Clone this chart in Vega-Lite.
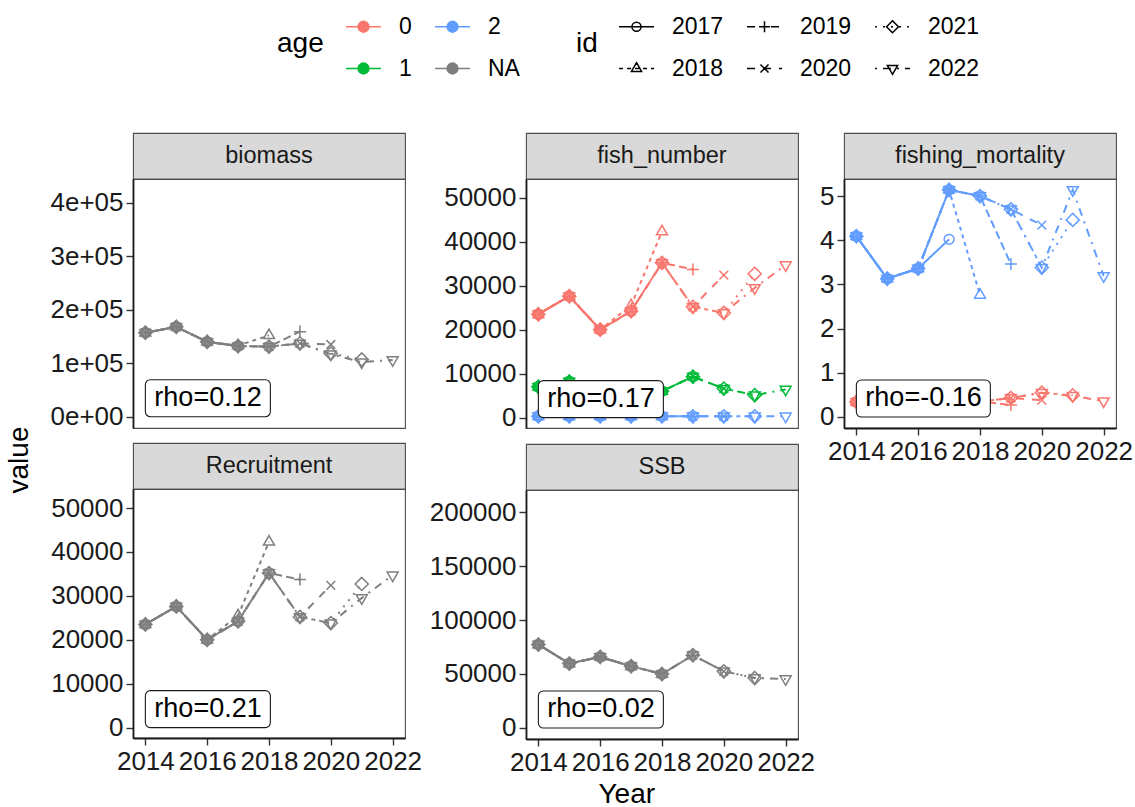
{
  "$schema": "https://vega.github.io/schema/vega-lite/v6.json",
  "background": "white",
  "padding": {"left": 0, "top": 8, "right": 0, "bottom": 0},
  "autosize": {"type": "pad"},
  "config": {
    "font": "Liberation Sans",
    "view": {"stroke": "#4d4d4d", "strokeWidth": 1.1},
    "axis": {"grid": false, "labelFontSize": 26, "labelColor": "#1a1a1a", "labelPadding": 3, "labelOverlap": false, "labelFlush": false, "domainColor": "#1a1a1a", "domainWidth": 1.8, "tickColor": "#333333", "tickWidth": 1.4, "tickSize": 7},
    "legend": {"titleFontSize": 28, "titleFontWeight": "normal", "titleColor": "#000000", "labelFontSize": 23, "labelColor": "#000000", "titleOrient": "left", "titleAnchor": "middle", "titleBaseline": "middle", "titlePadding": 21, "labelOffset": 17, "symbolSize": 1225, "symbolOpacity": 1, "rowPadding": 11, "columnPadding": 20, "orient": "none"},
    "point": {"size": 120, "strokeWidth": 1.5}
  },
  "datasets": {
    "rho": [
      {"panel": "biomass", "label": "rho=0.12", "Year": 2014, "value": 0},
      {"panel": "fish_number", "label": "rho=0.17", "Year": 2014, "value": 0},
      {"panel": "fishing_mortality", "label": "rho=-0.16", "Year": 2014, "value": 0},
      {"panel": "Recruitment", "label": "rho=0.21", "Year": 2014, "value": 0},
      {"panel": "SSB", "label": "rho=0.02", "Year": 2014, "value": 0}
    ],
    "retro": [
      {"panel":"biomass","age":"NA","id":"2017","Year":2014,"value":157000},
      {"panel":"biomass","age":"NA","id":"2017","Year":2015,"value":168000},
      {"panel":"biomass","age":"NA","id":"2017","Year":2016,"value":140000},
      {"panel":"biomass","age":"NA","id":"2017","Year":2017,"value":132000},
      {"panel":"biomass","age":"NA","id":"2018","Year":2014,"value":157000},
      {"panel":"biomass","age":"NA","id":"2018","Year":2015,"value":168000},
      {"panel":"biomass","age":"NA","id":"2018","Year":2016,"value":140000},
      {"panel":"biomass","age":"NA","id":"2018","Year":2017,"value":133000},
      {"panel":"biomass","age":"NA","id":"2018","Year":2018,"value":152000},
      {"panel":"biomass","age":"NA","id":"2019","Year":2014,"value":157000},
      {"panel":"biomass","age":"NA","id":"2019","Year":2015,"value":168000},
      {"panel":"biomass","age":"NA","id":"2019","Year":2016,"value":140000},
      {"panel":"biomass","age":"NA","id":"2019","Year":2017,"value":132000},
      {"panel":"biomass","age":"NA","id":"2019","Year":2018,"value":131000},
      {"panel":"biomass","age":"NA","id":"2019","Year":2019,"value":159000},
      {"panel":"biomass","age":"NA","id":"2020","Year":2014,"value":157000},
      {"panel":"biomass","age":"NA","id":"2020","Year":2015,"value":168000},
      {"panel":"biomass","age":"NA","id":"2020","Year":2016,"value":140000},
      {"panel":"biomass","age":"NA","id":"2020","Year":2017,"value":132000},
      {"panel":"biomass","age":"NA","id":"2020","Year":2018,"value":131000},
      {"panel":"biomass","age":"NA","id":"2020","Year":2019,"value":137000},
      {"panel":"biomass","age":"NA","id":"2020","Year":2020,"value":135000},
      {"panel":"biomass","age":"NA","id":"2021","Year":2014,"value":157000},
      {"panel":"biomass","age":"NA","id":"2021","Year":2015,"value":168000},
      {"panel":"biomass","age":"NA","id":"2021","Year":2016,"value":140000},
      {"panel":"biomass","age":"NA","id":"2021","Year":2017,"value":132000},
      {"panel":"biomass","age":"NA","id":"2021","Year":2018,"value":131000},
      {"panel":"biomass","age":"NA","id":"2021","Year":2019,"value":137000},
      {"panel":"biomass","age":"NA","id":"2021","Year":2020,"value":118000},
      {"panel":"biomass","age":"NA","id":"2021","Year":2021,"value":107000},
      {"panel":"biomass","age":"NA","id":"2022","Year":2014,"value":157000},
      {"panel":"biomass","age":"NA","id":"2022","Year":2015,"value":168000},
      {"panel":"biomass","age":"NA","id":"2022","Year":2016,"value":140000},
      {"panel":"biomass","age":"NA","id":"2022","Year":2017,"value":132000},
      {"panel":"biomass","age":"NA","id":"2022","Year":2018,"value":131000},
      {"panel":"biomass","age":"NA","id":"2022","Year":2019,"value":137000},
      {"panel":"biomass","age":"NA","id":"2022","Year":2020,"value":117000},
      {"panel":"biomass","age":"NA","id":"2022","Year":2021,"value":102000},
      {"panel":"biomass","age":"NA","id":"2022","Year":2022,"value":106000},

      {"panel":"fish_number","age":"0","id":"2017","Year":2014,"value":23500},
      {"panel":"fish_number","age":"0","id":"2017","Year":2015,"value":27600},
      {"panel":"fish_number","age":"0","id":"2017","Year":2016,"value":20000},
      {"panel":"fish_number","age":"0","id":"2017","Year":2017,"value":24200},
      {"panel":"fish_number","age":"0","id":"2018","Year":2014,"value":23500},
      {"panel":"fish_number","age":"0","id":"2018","Year":2015,"value":27600},
      {"panel":"fish_number","age":"0","id":"2018","Year":2016,"value":20000},
      {"panel":"fish_number","age":"0","id":"2018","Year":2017,"value":25500},
      {"panel":"fish_number","age":"0","id":"2018","Year":2018,"value":42300},
      {"panel":"fish_number","age":"0","id":"2019","Year":2014,"value":23500},
      {"panel":"fish_number","age":"0","id":"2019","Year":2015,"value":27600},
      {"panel":"fish_number","age":"0","id":"2019","Year":2016,"value":20000},
      {"panel":"fish_number","age":"0","id":"2019","Year":2017,"value":24200},
      {"panel":"fish_number","age":"0","id":"2019","Year":2018,"value":35200},
      {"panel":"fish_number","age":"0","id":"2019","Year":2019,"value":33700},
      {"panel":"fish_number","age":"0","id":"2020","Year":2014,"value":23500},
      {"panel":"fish_number","age":"0","id":"2020","Year":2015,"value":27600},
      {"panel":"fish_number","age":"0","id":"2020","Year":2016,"value":20000},
      {"panel":"fish_number","age":"0","id":"2020","Year":2017,"value":24200},
      {"panel":"fish_number","age":"0","id":"2020","Year":2018,"value":35200},
      {"panel":"fish_number","age":"0","id":"2020","Year":2019,"value":25200},
      {"panel":"fish_number","age":"0","id":"2020","Year":2020,"value":32400},
      {"panel":"fish_number","age":"0","id":"2021","Year":2014,"value":23500},
      {"panel":"fish_number","age":"0","id":"2021","Year":2015,"value":27600},
      {"panel":"fish_number","age":"0","id":"2021","Year":2016,"value":20000},
      {"panel":"fish_number","age":"0","id":"2021","Year":2017,"value":24200},
      {"panel":"fish_number","age":"0","id":"2021","Year":2018,"value":35200},
      {"panel":"fish_number","age":"0","id":"2021","Year":2019,"value":25200},
      {"panel":"fish_number","age":"0","id":"2021","Year":2020,"value":23800},
      {"panel":"fish_number","age":"0","id":"2021","Year":2021,"value":32700},
      {"panel":"fish_number","age":"0","id":"2022","Year":2014,"value":23500},
      {"panel":"fish_number","age":"0","id":"2022","Year":2015,"value":27600},
      {"panel":"fish_number","age":"0","id":"2022","Year":2016,"value":20000},
      {"panel":"fish_number","age":"0","id":"2022","Year":2017,"value":24200},
      {"panel":"fish_number","age":"0","id":"2022","Year":2018,"value":35200},
      {"panel":"fish_number","age":"0","id":"2022","Year":2019,"value":25200},
      {"panel":"fish_number","age":"0","id":"2022","Year":2020,"value":23800},
      {"panel":"fish_number","age":"0","id":"2022","Year":2021,"value":29500},
      {"panel":"fish_number","age":"0","id":"2022","Year":2022,"value":34700},

      {"panel":"fish_number","age":"1","id":"2017","Year":2014,"value":7000},
      {"panel":"fish_number","age":"1","id":"2017","Year":2015,"value":8200},
      {"panel":"fish_number","age":"1","id":"2017","Year":2016,"value":6800},
      {"panel":"fish_number","age":"1","id":"2017","Year":2017,"value":5600},
      {"panel":"fish_number","age":"1","id":"2018","Year":2014,"value":7000},
      {"panel":"fish_number","age":"1","id":"2018","Year":2015,"value":8200},
      {"panel":"fish_number","age":"1","id":"2018","Year":2016,"value":6800},
      {"panel":"fish_number","age":"1","id":"2018","Year":2017,"value":5600},
      {"panel":"fish_number","age":"1","id":"2018","Year":2018,"value":6000},
      {"panel":"fish_number","age":"1","id":"2019","Year":2014,"value":7000},
      {"panel":"fish_number","age":"1","id":"2019","Year":2015,"value":8200},
      {"panel":"fish_number","age":"1","id":"2019","Year":2016,"value":6800},
      {"panel":"fish_number","age":"1","id":"2019","Year":2017,"value":5600},
      {"panel":"fish_number","age":"1","id":"2019","Year":2018,"value":6000},
      {"panel":"fish_number","age":"1","id":"2019","Year":2019,"value":9300},
      {"panel":"fish_number","age":"1","id":"2020","Year":2014,"value":7000},
      {"panel":"fish_number","age":"1","id":"2020","Year":2015,"value":8200},
      {"panel":"fish_number","age":"1","id":"2020","Year":2016,"value":6800},
      {"panel":"fish_number","age":"1","id":"2020","Year":2017,"value":5600},
      {"panel":"fish_number","age":"1","id":"2020","Year":2018,"value":6000},
      {"panel":"fish_number","age":"1","id":"2020","Year":2019,"value":9300},
      {"panel":"fish_number","age":"1","id":"2020","Year":2020,"value":6600},
      {"panel":"fish_number","age":"1","id":"2021","Year":2014,"value":7000},
      {"panel":"fish_number","age":"1","id":"2021","Year":2015,"value":8200},
      {"panel":"fish_number","age":"1","id":"2021","Year":2016,"value":6800},
      {"panel":"fish_number","age":"1","id":"2021","Year":2017,"value":5600},
      {"panel":"fish_number","age":"1","id":"2021","Year":2018,"value":6000},
      {"panel":"fish_number","age":"1","id":"2021","Year":2019,"value":9300},
      {"panel":"fish_number","age":"1","id":"2021","Year":2020,"value":6600},
      {"panel":"fish_number","age":"1","id":"2021","Year":2021,"value":5100},
      {"panel":"fish_number","age":"1","id":"2022","Year":2014,"value":7000},
      {"panel":"fish_number","age":"1","id":"2022","Year":2015,"value":8200},
      {"panel":"fish_number","age":"1","id":"2022","Year":2016,"value":6800},
      {"panel":"fish_number","age":"1","id":"2022","Year":2017,"value":5600},
      {"panel":"fish_number","age":"1","id":"2022","Year":2018,"value":6000},
      {"panel":"fish_number","age":"1","id":"2022","Year":2019,"value":9300},
      {"panel":"fish_number","age":"1","id":"2022","Year":2020,"value":6600},
      {"panel":"fish_number","age":"1","id":"2022","Year":2021,"value":5100},
      {"panel":"fish_number","age":"1","id":"2022","Year":2022,"value":6400},

      {"panel":"fish_number","age":"2","id":"2017","Year":2014,"value":300},
      {"panel":"fish_number","age":"2","id":"2017","Year":2015,"value":300},
      {"panel":"fish_number","age":"2","id":"2017","Year":2016,"value":300},
      {"panel":"fish_number","age":"2","id":"2017","Year":2017,"value":300},
      {"panel":"fish_number","age":"2","id":"2018","Year":2014,"value":300},
      {"panel":"fish_number","age":"2","id":"2018","Year":2015,"value":300},
      {"panel":"fish_number","age":"2","id":"2018","Year":2016,"value":300},
      {"panel":"fish_number","age":"2","id":"2018","Year":2017,"value":300},
      {"panel":"fish_number","age":"2","id":"2018","Year":2018,"value":300},
      {"panel":"fish_number","age":"2","id":"2019","Year":2014,"value":300},
      {"panel":"fish_number","age":"2","id":"2019","Year":2015,"value":300},
      {"panel":"fish_number","age":"2","id":"2019","Year":2016,"value":300},
      {"panel":"fish_number","age":"2","id":"2019","Year":2017,"value":300},
      {"panel":"fish_number","age":"2","id":"2019","Year":2018,"value":300},
      {"panel":"fish_number","age":"2","id":"2019","Year":2019,"value":300},
      {"panel":"fish_number","age":"2","id":"2020","Year":2014,"value":300},
      {"panel":"fish_number","age":"2","id":"2020","Year":2015,"value":300},
      {"panel":"fish_number","age":"2","id":"2020","Year":2016,"value":300},
      {"panel":"fish_number","age":"2","id":"2020","Year":2017,"value":300},
      {"panel":"fish_number","age":"2","id":"2020","Year":2018,"value":300},
      {"panel":"fish_number","age":"2","id":"2020","Year":2019,"value":300},
      {"panel":"fish_number","age":"2","id":"2020","Year":2020,"value":300},
      {"panel":"fish_number","age":"2","id":"2021","Year":2014,"value":300},
      {"panel":"fish_number","age":"2","id":"2021","Year":2015,"value":300},
      {"panel":"fish_number","age":"2","id":"2021","Year":2016,"value":300},
      {"panel":"fish_number","age":"2","id":"2021","Year":2017,"value":300},
      {"panel":"fish_number","age":"2","id":"2021","Year":2018,"value":300},
      {"panel":"fish_number","age":"2","id":"2021","Year":2019,"value":300},
      {"panel":"fish_number","age":"2","id":"2021","Year":2020,"value":300},
      {"panel":"fish_number","age":"2","id":"2021","Year":2021,"value":300},
      {"panel":"fish_number","age":"2","id":"2022","Year":2014,"value":300},
      {"panel":"fish_number","age":"2","id":"2022","Year":2015,"value":300},
      {"panel":"fish_number","age":"2","id":"2022","Year":2016,"value":300},
      {"panel":"fish_number","age":"2","id":"2022","Year":2017,"value":300},
      {"panel":"fish_number","age":"2","id":"2022","Year":2018,"value":300},
      {"panel":"fish_number","age":"2","id":"2022","Year":2019,"value":300},
      {"panel":"fish_number","age":"2","id":"2022","Year":2020,"value":300},
      {"panel":"fish_number","age":"2","id":"2022","Year":2021,"value":300},
      {"panel":"fish_number","age":"2","id":"2022","Year":2022,"value":300},

      {"panel":"fishing_mortality","age":"2","id":"2017","Year":2014,"value":4.09},
      {"panel":"fishing_mortality","age":"2","id":"2017","Year":2015,"value":3.13},
      {"panel":"fishing_mortality","age":"2","id":"2017","Year":2016,"value":3.36},
      {"panel":"fishing_mortality","age":"2","id":"2017","Year":2017,"value":4.02},
      {"panel":"fishing_mortality","age":"2","id":"2018","Year":2014,"value":4.09},
      {"panel":"fishing_mortality","age":"2","id":"2018","Year":2015,"value":3.13},
      {"panel":"fishing_mortality","age":"2","id":"2018","Year":2016,"value":3.36},
      {"panel":"fishing_mortality","age":"2","id":"2018","Year":2017,"value":5.14},
      {"panel":"fishing_mortality","age":"2","id":"2018","Year":2018,"value":2.76},
      {"panel":"fishing_mortality","age":"2","id":"2019","Year":2014,"value":4.09},
      {"panel":"fishing_mortality","age":"2","id":"2019","Year":2015,"value":3.13},
      {"panel":"fishing_mortality","age":"2","id":"2019","Year":2016,"value":3.36},
      {"panel":"fishing_mortality","age":"2","id":"2019","Year":2017,"value":5.14},
      {"panel":"fishing_mortality","age":"2","id":"2019","Year":2018,"value":5.0},
      {"panel":"fishing_mortality","age":"2","id":"2019","Year":2019,"value":3.46},
      {"panel":"fishing_mortality","age":"2","id":"2020","Year":2014,"value":4.09},
      {"panel":"fishing_mortality","age":"2","id":"2020","Year":2015,"value":3.13},
      {"panel":"fishing_mortality","age":"2","id":"2020","Year":2016,"value":3.36},
      {"panel":"fishing_mortality","age":"2","id":"2020","Year":2017,"value":5.14},
      {"panel":"fishing_mortality","age":"2","id":"2020","Year":2018,"value":5.0},
      {"panel":"fishing_mortality","age":"2","id":"2020","Year":2019,"value":4.70},
      {"panel":"fishing_mortality","age":"2","id":"2020","Year":2020,"value":4.34},
      {"panel":"fishing_mortality","age":"2","id":"2021","Year":2014,"value":4.09},
      {"panel":"fishing_mortality","age":"2","id":"2021","Year":2015,"value":3.13},
      {"panel":"fishing_mortality","age":"2","id":"2021","Year":2016,"value":3.36},
      {"panel":"fishing_mortality","age":"2","id":"2021","Year":2017,"value":5.14},
      {"panel":"fishing_mortality","age":"2","id":"2021","Year":2018,"value":5.0},
      {"panel":"fishing_mortality","age":"2","id":"2021","Year":2019,"value":4.70},
      {"panel":"fishing_mortality","age":"2","id":"2021","Year":2020,"value":3.38},
      {"panel":"fishing_mortality","age":"2","id":"2021","Year":2021,"value":4.46},
      {"panel":"fishing_mortality","age":"2","id":"2022","Year":2014,"value":4.09},
      {"panel":"fishing_mortality","age":"2","id":"2022","Year":2015,"value":3.13},
      {"panel":"fishing_mortality","age":"2","id":"2022","Year":2016,"value":3.36},
      {"panel":"fishing_mortality","age":"2","id":"2022","Year":2017,"value":5.14},
      {"panel":"fishing_mortality","age":"2","id":"2022","Year":2018,"value":5.0},
      {"panel":"fishing_mortality","age":"2","id":"2022","Year":2019,"value":4.70},
      {"panel":"fishing_mortality","age":"2","id":"2022","Year":2020,"value":3.38},
      {"panel":"fishing_mortality","age":"2","id":"2022","Year":2021,"value":5.14},
      {"panel":"fishing_mortality","age":"2","id":"2022","Year":2022,"value":3.19},

      {"panel":"fishing_mortality","age":"0","id":"2017","Year":2014,"value":0.34},
      {"panel":"fishing_mortality","age":"0","id":"2017","Year":2015,"value":0.30},
      {"panel":"fishing_mortality","age":"0","id":"2017","Year":2016,"value":0.32},
      {"panel":"fishing_mortality","age":"0","id":"2017","Year":2017,"value":0.29},
      {"panel":"fishing_mortality","age":"0","id":"2018","Year":2014,"value":0.34},
      {"panel":"fishing_mortality","age":"0","id":"2018","Year":2015,"value":0.30},
      {"panel":"fishing_mortality","age":"0","id":"2018","Year":2016,"value":0.32},
      {"panel":"fishing_mortality","age":"0","id":"2018","Year":2017,"value":0.29},
      {"panel":"fishing_mortality","age":"0","id":"2018","Year":2018,"value":0.30},
      {"panel":"fishing_mortality","age":"0","id":"2019","Year":2014,"value":0.34},
      {"panel":"fishing_mortality","age":"0","id":"2019","Year":2015,"value":0.30},
      {"panel":"fishing_mortality","age":"0","id":"2019","Year":2016,"value":0.32},
      {"panel":"fishing_mortality","age":"0","id":"2019","Year":2017,"value":0.29},
      {"panel":"fishing_mortality","age":"0","id":"2019","Year":2018,"value":0.35},
      {"panel":"fishing_mortality","age":"0","id":"2019","Year":2019,"value":0.27},
      {"panel":"fishing_mortality","age":"0","id":"2020","Year":2014,"value":0.34},
      {"panel":"fishing_mortality","age":"0","id":"2020","Year":2015,"value":0.30},
      {"panel":"fishing_mortality","age":"0","id":"2020","Year":2016,"value":0.32},
      {"panel":"fishing_mortality","age":"0","id":"2020","Year":2017,"value":0.29},
      {"panel":"fishing_mortality","age":"0","id":"2020","Year":2018,"value":0.35},
      {"panel":"fishing_mortality","age":"0","id":"2020","Year":2019,"value":0.43},
      {"panel":"fishing_mortality","age":"0","id":"2020","Year":2020,"value":0.38},
      {"panel":"fishing_mortality","age":"0","id":"2021","Year":2014,"value":0.34},
      {"panel":"fishing_mortality","age":"0","id":"2021","Year":2015,"value":0.30},
      {"panel":"fishing_mortality","age":"0","id":"2021","Year":2016,"value":0.32},
      {"panel":"fishing_mortality","age":"0","id":"2021","Year":2017,"value":0.29},
      {"panel":"fishing_mortality","age":"0","id":"2021","Year":2018,"value":0.35},
      {"panel":"fishing_mortality","age":"0","id":"2021","Year":2019,"value":0.43},
      {"panel":"fishing_mortality","age":"0","id":"2021","Year":2020,"value":0.55},
      {"panel":"fishing_mortality","age":"0","id":"2021","Year":2021,"value":0.49},
      {"panel":"fishing_mortality","age":"0","id":"2022","Year":2014,"value":0.34},
      {"panel":"fishing_mortality","age":"0","id":"2022","Year":2015,"value":0.30},
      {"panel":"fishing_mortality","age":"0","id":"2022","Year":2016,"value":0.32},
      {"panel":"fishing_mortality","age":"0","id":"2022","Year":2017,"value":0.29},
      {"panel":"fishing_mortality","age":"0","id":"2022","Year":2018,"value":0.35},
      {"panel":"fishing_mortality","age":"0","id":"2022","Year":2019,"value":0.43},
      {"panel":"fishing_mortality","age":"0","id":"2022","Year":2020,"value":0.55},
      {"panel":"fishing_mortality","age":"0","id":"2022","Year":2021,"value":0.48},
      {"panel":"fishing_mortality","age":"0","id":"2022","Year":2022,"value":0.36},

      {"panel":"Recruitment","age":"NA","id":"2017","Year":2014,"value":23500},
      {"panel":"Recruitment","age":"NA","id":"2017","Year":2015,"value":27600},
      {"panel":"Recruitment","age":"NA","id":"2017","Year":2016,"value":20000},
      {"panel":"Recruitment","age":"NA","id":"2017","Year":2017,"value":24200},
      {"panel":"Recruitment","age":"NA","id":"2018","Year":2014,"value":23500},
      {"panel":"Recruitment","age":"NA","id":"2018","Year":2015,"value":27600},
      {"panel":"Recruitment","age":"NA","id":"2018","Year":2016,"value":20000},
      {"panel":"Recruitment","age":"NA","id":"2018","Year":2017,"value":25500},
      {"panel":"Recruitment","age":"NA","id":"2018","Year":2018,"value":42300},
      {"panel":"Recruitment","age":"NA","id":"2019","Year":2014,"value":23500},
      {"panel":"Recruitment","age":"NA","id":"2019","Year":2015,"value":27600},
      {"panel":"Recruitment","age":"NA","id":"2019","Year":2016,"value":20000},
      {"panel":"Recruitment","age":"NA","id":"2019","Year":2017,"value":24200},
      {"panel":"Recruitment","age":"NA","id":"2019","Year":2018,"value":35200},
      {"panel":"Recruitment","age":"NA","id":"2019","Year":2019,"value":33700},
      {"panel":"Recruitment","age":"NA","id":"2020","Year":2014,"value":23500},
      {"panel":"Recruitment","age":"NA","id":"2020","Year":2015,"value":27600},
      {"panel":"Recruitment","age":"NA","id":"2020","Year":2016,"value":20000},
      {"panel":"Recruitment","age":"NA","id":"2020","Year":2017,"value":24200},
      {"panel":"Recruitment","age":"NA","id":"2020","Year":2018,"value":35200},
      {"panel":"Recruitment","age":"NA","id":"2020","Year":2019,"value":25200},
      {"panel":"Recruitment","age":"NA","id":"2020","Year":2020,"value":32400},
      {"panel":"Recruitment","age":"NA","id":"2021","Year":2014,"value":23500},
      {"panel":"Recruitment","age":"NA","id":"2021","Year":2015,"value":27600},
      {"panel":"Recruitment","age":"NA","id":"2021","Year":2016,"value":20000},
      {"panel":"Recruitment","age":"NA","id":"2021","Year":2017,"value":24200},
      {"panel":"Recruitment","age":"NA","id":"2021","Year":2018,"value":35200},
      {"panel":"Recruitment","age":"NA","id":"2021","Year":2019,"value":25200},
      {"panel":"Recruitment","age":"NA","id":"2021","Year":2020,"value":23800},
      {"panel":"Recruitment","age":"NA","id":"2021","Year":2021,"value":32700},
      {"panel":"Recruitment","age":"NA","id":"2022","Year":2014,"value":23500},
      {"panel":"Recruitment","age":"NA","id":"2022","Year":2015,"value":27600},
      {"panel":"Recruitment","age":"NA","id":"2022","Year":2016,"value":20000},
      {"panel":"Recruitment","age":"NA","id":"2022","Year":2017,"value":24200},
      {"panel":"Recruitment","age":"NA","id":"2022","Year":2018,"value":35200},
      {"panel":"Recruitment","age":"NA","id":"2022","Year":2019,"value":25200},
      {"panel":"Recruitment","age":"NA","id":"2022","Year":2020,"value":23800},
      {"panel":"Recruitment","age":"NA","id":"2022","Year":2021,"value":29500},
      {"panel":"Recruitment","age":"NA","id":"2022","Year":2022,"value":34700},

      {"panel":"SSB","age":"NA","id":"2017","Year":2014,"value":77300},
      {"panel":"SSB","age":"NA","id":"2017","Year":2015,"value":59700},
      {"panel":"SSB","age":"NA","id":"2017","Year":2016,"value":65800},
      {"panel":"SSB","age":"NA","id":"2017","Year":2017,"value":57200},
      {"panel":"SSB","age":"NA","id":"2018","Year":2014,"value":77300},
      {"panel":"SSB","age":"NA","id":"2018","Year":2015,"value":59700},
      {"panel":"SSB","age":"NA","id":"2018","Year":2016,"value":65800},
      {"panel":"SSB","age":"NA","id":"2018","Year":2017,"value":57200},
      {"panel":"SSB","age":"NA","id":"2018","Year":2018,"value":50000},
      {"panel":"SSB","age":"NA","id":"2019","Year":2014,"value":77300},
      {"panel":"SSB","age":"NA","id":"2019","Year":2015,"value":59700},
      {"panel":"SSB","age":"NA","id":"2019","Year":2016,"value":65800},
      {"panel":"SSB","age":"NA","id":"2019","Year":2017,"value":57200},
      {"panel":"SSB","age":"NA","id":"2019","Year":2018,"value":50000},
      {"panel":"SSB","age":"NA","id":"2019","Year":2019,"value":67400},
      {"panel":"SSB","age":"NA","id":"2020","Year":2014,"value":77300},
      {"panel":"SSB","age":"NA","id":"2020","Year":2015,"value":59700},
      {"panel":"SSB","age":"NA","id":"2020","Year":2016,"value":65800},
      {"panel":"SSB","age":"NA","id":"2020","Year":2017,"value":57200},
      {"panel":"SSB","age":"NA","id":"2020","Year":2018,"value":50000},
      {"panel":"SSB","age":"NA","id":"2020","Year":2019,"value":67400},
      {"panel":"SSB","age":"NA","id":"2020","Year":2020,"value":52500},
      {"panel":"SSB","age":"NA","id":"2021","Year":2014,"value":77300},
      {"panel":"SSB","age":"NA","id":"2021","Year":2015,"value":59700},
      {"panel":"SSB","age":"NA","id":"2021","Year":2016,"value":65800},
      {"panel":"SSB","age":"NA","id":"2021","Year":2017,"value":57200},
      {"panel":"SSB","age":"NA","id":"2021","Year":2018,"value":50000},
      {"panel":"SSB","age":"NA","id":"2021","Year":2019,"value":67400},
      {"panel":"SSB","age":"NA","id":"2021","Year":2020,"value":52500},
      {"panel":"SSB","age":"NA","id":"2021","Year":2021,"value":46300},
      {"panel":"SSB","age":"NA","id":"2022","Year":2014,"value":77300},
      {"panel":"SSB","age":"NA","id":"2022","Year":2015,"value":59700},
      {"panel":"SSB","age":"NA","id":"2022","Year":2016,"value":65800},
      {"panel":"SSB","age":"NA","id":"2022","Year":2017,"value":57200},
      {"panel":"SSB","age":"NA","id":"2022","Year":2018,"value":50000},
      {"panel":"SSB","age":"NA","id":"2022","Year":2019,"value":67400},
      {"panel":"SSB","age":"NA","id":"2022","Year":2020,"value":52500},
      {"panel":"SSB","age":"NA","id":"2022","Year":2021,"value":46300},
      {"panel":"SSB","age":"NA","id":"2022","Year":2022,"value":45400}
    ]
  },
  "spacing": 0,
  "hconcat": [
    {
      "width": 40, "height": 654,
      "view": {"stroke": null},
      "data": {"values": [{"label": "value"}]},
      "mark": {"type": "text", "angle": 270, "fontSize": 28, "color": "#000000"},
      "encoding": {"text": {"field": "label", "type": "nominal"}}
    },
    {
      "title": {"text": "Year", "orient": "bottom", "anchor": "middle", "fontSize": 28, "fontWeight": "normal", "color": "#000000", "offset": 5, "dx": 40},
      "spacing": 0,
      "hconcat": [
        {
          "spacing": 11,
          "vconcat": [
            {
              "spacing": 0, "bounds": "flush",
              "vconcat": [
                {
                  "width": 272, "height": 46,
                  "view": {"fill": "#d9d9d9", "stroke": "#4d4d4d", "strokeWidth": 1.1},
                  "data": {"values": [{"label": "biomass"}]},
                  "mark": {"type": "text", "fontSize": 23.5, "color": "#1a1a1a"},
                  "encoding": {"text": {"field": "label", "type": "nominal"}}
                },
                {
                  "width": 272, "height": 249,
                  "encoding": {
                    "x": {"field": "Year", "type": "quantitative", "scale": {"domain": [2013.6, 2022.4], "nice": false, "zero": false}, "axis": null},
                    "y": {"field": "value", "type": "quantitative", "scale": {"domain": [-21100, 444300], "nice": false, "zero": false}, "axis": {"title": null, "values": [0, 100000, 200000, 300000, 400000], "labelExpr": "datum.value === 0 ? '0e+00' : (datum.value / 100000) + 'e+05'", "minExtent": 92, "maxExtent": 92}}
                  },
                  "layer": [
                    {
                      "data": {"name": "retro"}, "transform": [{"filter": "datum.panel === 'biomass'"}],
                      "mark": {"type": "point", "filled": true, "opacity": 0, "size": 100, "color": "#000000"},
                      "encoding": {
                        "color": {"field": "age", "type": "nominal", "scale": {"domain": ["0", "1", "2", "NA"], "range": ["#F8766D", "#00BA38", "#619CFF", "#7F7F7F"]}},
                        "shape": {"field": "id", "type": "nominal",
                          "scale": {"domain": ["2017", "2018", "2019", "2020", "2021", "2022"], "range": [
                            "M-1,0H1M0.26,0A0.26,0.26 0 1,1 -0.26,0A0.26,0.26 0 1,1 0.26,0Z",
                            "M-1,0H-0.77M-0.54,0H-0.31M-0.09,0H0.14M0.37,0H0.6M0.83,0H1M0,-0.33L0.29,0.17L-0.29,0.17Z",
                            "M-1,0H-0.54M-0.31,0H0.31M0.37,0H0.83M0,-0.31V0.31",
                            "M-1,0H-0.54M-0.09,0H0.37M0.83,0H1M-0.23,-0.23L0.23,0.23M-0.23,0.23L0.23,-0.23",
                            "M-1,0H-0.89M-0.54,0H-0.43M-0.09,0H0.03M0.37,0H0.49M0.83,0H0.94M0,-0.34L0.34,0L0,0.34L-0.34,0Z",
                            "M-1,0H-0.89M-0.54,0H-0.09M0.26,0H0.37M0.71,0H1M0,0.33L0.29,-0.17L-0.29,-0.17Z"]},
                          "legend": {"title": "id", "legendX": 576, "legendY": -125, "columns": 3, "titlePadding": 20, "symbolStrokeWidth": 1.8, "symbolStrokeColor": "#000000", "symbolFillColor": "transparent", "symbolOpacity": 1}}
                      }
                    },
                    {
                      "data": {"name": "retro"}, "transform": [{"filter": "datum.panel === 'biomass'"}],
                      "mark": {"type": "line", "strokeWidth": 2},
                      "encoding": {
                        "color": {"field": "age", "type": "nominal", "scale": {"domain": ["0", "1", "2", "NA"], "range": ["#F8766D", "#00BA38", "#619CFF", "#7F7F7F"]}},
                        "strokeDash": {"field": "id", "type": "nominal", "scale": {"domain": ["2022", "2021", "2020", "2019", "2018", "2017"], "range": [[2, 6, 8, 6], [2, 6], [8, 8], [8, 4], [4, 4], [1, 0]]}, "legend": null}
                      }
                    },
                    {
                      "data": {"name": "retro"}, "transform": [{"filter": "datum.panel === 'biomass'"}],
                      "mark": {"type": "point", "filled": false, "opacity": 1},
                      "encoding": {
                        "color": {"field": "age", "type": "nominal", "scale": {"domain": ["0", "1", "2", "NA"], "range": ["#F8766D", "#00BA38", "#619CFF", "#7F7F7F"]},
                          "legend": {"title": "age", "legendX": 277, "legendY": -125, "columns": 2, "titlePadding": 21, "symbolType": "M-1,0H1M0.31,0A0.31,0.31 0 1,1 -0.31,0A0.31,0.31 0 1,1 0.31,0Z", "symbolStrokeWidth": 2, "symbolOpacity": 1}},
                        "shape": {"condition": [
                          {"test": "datum.id === '2017'", "value": "M0.9,0A0.9,0.9 0 1,1 -0.9,0A0.9,0.9 0 1,1 0.9,0Z"},
                          {"test": "datum.id === '2018'", "value": "M0,-1.15L1,0.58L-1,0.58Z"},
                          {"test": "datum.id === '2019'", "value": "M-1.1,0H1.1M0,-1.1V1.1"},
                          {"test": "datum.id === '2020'", "value": "M-0.8,-0.8L0.8,0.8M-0.8,0.8L0.8,-0.8"},
                          {"test": "datum.id === '2021'", "value": "M0,-1.2L1.2,0L0,1.2L-1.2,0Z"}], "value": "M0,1.15L1,-0.58L-1,-0.58Z"}
                      }
                    },
                    {
                      "data": {"name": "rho"}, "transform": [{"filter": "datum.panel === 'biomass'"}],
                      "mark": {"type": "point", "shape": "M5,0H120A5,5 0 0 0 125,-5V-32A5,5 0 0 0 120,-37H5A5,5 0 0 0 0,-32V-5A5,5 0 0 0 5,0Z", "size": 4, "filled": true, "fill": "white", "stroke": "#1a1a1a", "strokeWidth": 1.1, "opacity": 1}
                    },
                    {
                      "data": {"name": "rho"}, "transform": [{"filter": "datum.panel === 'biomass'"}],
                      "mark": {"type": "text", "align": "left", "baseline": "middle", "dx": 9, "dy": -18.5, "fontSize": 27, "color": "#000000"},
                      "encoding": {"text": {"field": "label", "type": "nominal"}}
                    }
                  ]
                }
              ]
            },
            {
              "spacing": 0, "bounds": "flush",
              "vconcat": [
                {
                  "width": 272, "height": 46,
                  "view": {"fill": "#d9d9d9", "stroke": "#4d4d4d", "strokeWidth": 1.1},
                  "data": {"values": [{"label": "Recruitment"}]},
                  "mark": {"type": "text", "fontSize": 23.5, "color": "#1a1a1a"},
                  "encoding": {"text": {"field": "label", "type": "nominal"}}
                },
                {
                  "width": 272, "height": 249,
                  "encoding": {
                    "x": {"field": "Year", "type": "quantitative", "scale": {"domain": [2013.6, 2022.4], "nice": false, "zero": false}, "axis": {"title": null, "values": [2014, 2016, 2018, 2020, 2022], "format": "d"}},
                    "y": {"field": "value", "type": "quantitative", "scale": {"domain": [-2370, 54330], "nice": false, "zero": false}, "axis": {"title": null, "values": [0, 10000, 20000, 30000, 40000, 50000], "format": "d", "minExtent": 92, "maxExtent": 92}}
                  },
                  "layer": [
                    {
                      "data": {"name": "retro"}, "transform": [{"filter": "datum.panel === 'Recruitment'"}],
                      "mark": {"type": "line", "strokeWidth": 2},
                      "encoding": {
                        "color": {"field": "age", "type": "nominal", "scale": {"domain": ["0", "1", "2", "NA"], "range": ["#F8766D", "#00BA38", "#619CFF", "#7F7F7F"]}},
                        "strokeDash": {"field": "id", "type": "nominal", "scale": {"domain": ["2022", "2021", "2020", "2019", "2018", "2017"], "range": [[2, 6, 8, 6], [2, 6], [8, 8], [8, 4], [4, 4], [1, 0]]}, "legend": null}
                      }
                    },
                    {
                      "data": {"name": "retro"}, "transform": [{"filter": "datum.panel === 'Recruitment'"}],
                      "mark": {"type": "point", "filled": false, "opacity": 1},
                      "encoding": {
                        "color": {"field": "age", "type": "nominal", "scale": {"domain": ["0", "1", "2", "NA"], "range": ["#F8766D", "#00BA38", "#619CFF", "#7F7F7F"]}},
                        "shape": {"condition": [
                          {"test": "datum.id === '2017'", "value": "M0.9,0A0.9,0.9 0 1,1 -0.9,0A0.9,0.9 0 1,1 0.9,0Z"},
                          {"test": "datum.id === '2018'", "value": "M0,-1.15L1,0.58L-1,0.58Z"},
                          {"test": "datum.id === '2019'", "value": "M-1.1,0H1.1M0,-1.1V1.1"},
                          {"test": "datum.id === '2020'", "value": "M-0.8,-0.8L0.8,0.8M-0.8,0.8L0.8,-0.8"},
                          {"test": "datum.id === '2021'", "value": "M0,-1.2L1.2,0L0,1.2L-1.2,0Z"}], "value": "M0,1.15L1,-0.58L-1,-0.58Z"}
                      }
                    },
                    {
                      "data": {"name": "rho"}, "transform": [{"filter": "datum.panel === 'Recruitment'"}],
                      "mark": {"type": "point", "shape": "M5,0H120A5,5 0 0 0 125,-5V-32A5,5 0 0 0 120,-37H5A5,5 0 0 0 0,-32V-5A5,5 0 0 0 5,0Z", "size": 4, "filled": true, "fill": "white", "stroke": "#1a1a1a", "strokeWidth": 1.1, "opacity": 1}
                    },
                    {
                      "data": {"name": "rho"}, "transform": [{"filter": "datum.panel === 'Recruitment'"}],
                      "mark": {"type": "text", "align": "left", "baseline": "middle", "dx": 9, "dy": -18.5, "fontSize": 27, "color": "#000000"},
                      "encoding": {"text": {"field": "label", "type": "nominal"}}
                    }
                  ]
                }
              ]
            }
          ]
        },
        {
          "spacing": 11,
          "vconcat": [
            {
              "spacing": 0, "bounds": "flush",
              "vconcat": [
                {
                  "width": 272, "height": 46,
                  "view": {"fill": "#d9d9d9", "stroke": "#4d4d4d", "strokeWidth": 1.1},
                  "data": {"values": [{"label": "fish_number"}]},
                  "mark": {"type": "text", "fontSize": 23.5, "color": "#1a1a1a"},
                  "encoding": {"text": {"field": "label", "type": "nominal"}}
                },
                {
                  "width": 272, "height": 249,
                  "encoding": {
                    "x": {"field": "Year", "type": "quantitative", "scale": {"domain": [2013.6, 2022.4], "nice": false, "zero": false}, "axis": null},
                    "y": {"field": "value", "type": "quantitative", "scale": {"domain": [-2370, 54260], "nice": false, "zero": false}, "axis": {"title": null, "values": [0, 10000, 20000, 30000, 40000, 50000], "format": "d", "minExtent": 102, "maxExtent": 102}}
                  },
                  "layer": [
                    {
                      "data": {"name": "retro"}, "transform": [{"filter": "datum.panel === 'fish_number'"}],
                      "mark": {"type": "line", "strokeWidth": 2},
                      "encoding": {
                        "color": {"field": "age", "type": "nominal", "scale": {"domain": ["0", "1", "2", "NA"], "range": ["#F8766D", "#00BA38", "#619CFF", "#7F7F7F"]}},
                        "strokeDash": {"field": "id", "type": "nominal", "scale": {"domain": ["2022", "2021", "2020", "2019", "2018", "2017"], "range": [[2, 6, 8, 6], [2, 6], [8, 8], [8, 4], [4, 4], [1, 0]]}, "legend": null}
                      }
                    },
                    {
                      "data": {"name": "retro"}, "transform": [{"filter": "datum.panel === 'fish_number'"}],
                      "mark": {"type": "point", "filled": false, "opacity": 1},
                      "encoding": {
                        "color": {"field": "age", "type": "nominal", "scale": {"domain": ["0", "1", "2", "NA"], "range": ["#F8766D", "#00BA38", "#619CFF", "#7F7F7F"]}},
                        "shape": {"condition": [
                          {"test": "datum.id === '2017'", "value": "M0.9,0A0.9,0.9 0 1,1 -0.9,0A0.9,0.9 0 1,1 0.9,0Z"},
                          {"test": "datum.id === '2018'", "value": "M0,-1.15L1,0.58L-1,0.58Z"},
                          {"test": "datum.id === '2019'", "value": "M-1.1,0H1.1M0,-1.1V1.1"},
                          {"test": "datum.id === '2020'", "value": "M-0.8,-0.8L0.8,0.8M-0.8,0.8L0.8,-0.8"},
                          {"test": "datum.id === '2021'", "value": "M0,-1.2L1.2,0L0,1.2L-1.2,0Z"}], "value": "M0,1.15L1,-0.58L-1,-0.58Z"}
                      }
                    },
                    {
                      "data": {"name": "rho"}, "transform": [{"filter": "datum.panel === 'fish_number'"}],
                      "mark": {"type": "point", "shape": "M5,0H120A5,5 0 0 0 125,-5V-32A5,5 0 0 0 120,-37H5A5,5 0 0 0 0,-32V-5A5,5 0 0 0 5,0Z", "size": 4, "filled": true, "fill": "white", "stroke": "#1a1a1a", "strokeWidth": 1.1, "opacity": 1}
                    },
                    {
                      "data": {"name": "rho"}, "transform": [{"filter": "datum.panel === 'fish_number'"}],
                      "mark": {"type": "text", "align": "left", "baseline": "middle", "dx": 9, "dy": -18.5, "fontSize": 27, "color": "#000000"},
                      "encoding": {"text": {"field": "label", "type": "nominal"}}
                    }
                  ]
                }
              ]
            },
            {
              "spacing": 0, "bounds": "flush",
              "vconcat": [
                {
                  "width": 272, "height": 46,
                  "view": {"fill": "#d9d9d9", "stroke": "#4d4d4d", "strokeWidth": 1.1},
                  "data": {"values": [{"label": "SSB"}]},
                  "mark": {"type": "text", "fontSize": 23.5, "color": "#1a1a1a"},
                  "encoding": {"text": {"field": "label", "type": "nominal"}}
                },
                {
                  "width": 272, "height": 249,
                  "encoding": {
                    "x": {"field": "Year", "type": "quantitative", "scale": {"domain": [2013.6, 2022.4], "nice": false, "zero": false}, "axis": {"title": null, "values": [2014, 2016, 2018, 2020, 2022], "format": "d"}},
                    "y": {"field": "value", "type": "quantitative", "scale": {"domain": [-10200, 220400], "nice": false, "zero": false}, "axis": {"title": null, "values": [0, 50000, 100000, 150000, 200000], "format": "d", "minExtent": 102, "maxExtent": 102}}
                  },
                  "layer": [
                    {
                      "data": {"name": "retro"}, "transform": [{"filter": "datum.panel === 'SSB'"}],
                      "mark": {"type": "line", "strokeWidth": 2},
                      "encoding": {
                        "color": {"field": "age", "type": "nominal", "scale": {"domain": ["0", "1", "2", "NA"], "range": ["#F8766D", "#00BA38", "#619CFF", "#7F7F7F"]}},
                        "strokeDash": {"field": "id", "type": "nominal", "scale": {"domain": ["2022", "2021", "2020", "2019", "2018", "2017"], "range": [[2, 6, 8, 6], [2, 6], [8, 8], [8, 4], [4, 4], [1, 0]]}, "legend": null}
                      }
                    },
                    {
                      "data": {"name": "retro"}, "transform": [{"filter": "datum.panel === 'SSB'"}],
                      "mark": {"type": "point", "filled": false, "opacity": 1},
                      "encoding": {
                        "color": {"field": "age", "type": "nominal", "scale": {"domain": ["0", "1", "2", "NA"], "range": ["#F8766D", "#00BA38", "#619CFF", "#7F7F7F"]}},
                        "shape": {"condition": [
                          {"test": "datum.id === '2017'", "value": "M0.9,0A0.9,0.9 0 1,1 -0.9,0A0.9,0.9 0 1,1 0.9,0Z"},
                          {"test": "datum.id === '2018'", "value": "M0,-1.15L1,0.58L-1,0.58Z"},
                          {"test": "datum.id === '2019'", "value": "M-1.1,0H1.1M0,-1.1V1.1"},
                          {"test": "datum.id === '2020'", "value": "M-0.8,-0.8L0.8,0.8M-0.8,0.8L0.8,-0.8"},
                          {"test": "datum.id === '2021'", "value": "M0,-1.2L1.2,0L0,1.2L-1.2,0Z"}], "value": "M0,1.15L1,-0.58L-1,-0.58Z"}
                      }
                    },
                    {
                      "data": {"name": "rho"}, "transform": [{"filter": "datum.panel === 'SSB'"}],
                      "mark": {"type": "point", "shape": "M5,0H120A5,5 0 0 0 125,-5V-32A5,5 0 0 0 120,-37H5A5,5 0 0 0 0,-32V-5A5,5 0 0 0 5,0Z", "size": 4, "filled": true, "fill": "white", "stroke": "#1a1a1a", "strokeWidth": 1.1, "opacity": 1}
                    },
                    {
                      "data": {"name": "rho"}, "transform": [{"filter": "datum.panel === 'SSB'"}],
                      "mark": {"type": "text", "align": "left", "baseline": "middle", "dx": 9, "dy": -18.5, "fontSize": 27, "color": "#000000"},
                      "encoding": {"text": {"field": "label", "type": "nominal"}}
                    }
                  ]
                }
              ]
            }
          ]
        },
        {
          "spacing": 11,
          "vconcat": [
            {
              "spacing": 0, "bounds": "flush",
              "vconcat": [
                {
                  "width": 272, "height": 46,
                  "view": {"fill": "#d9d9d9", "stroke": "#4d4d4d", "strokeWidth": 1.1},
                  "data": {"values": [{"label": "fishing_mortality"}]},
                  "mark": {"type": "text", "fontSize": 23.5, "color": "#1a1a1a"},
                  "encoding": {"text": {"field": "label", "type": "nominal"}}
                },
                {
                  "width": 272, "height": 249,
                  "encoding": {
                    "x": {"field": "Year", "type": "quantitative", "scale": {"domain": [2013.6, 2022.4], "nice": false, "zero": false}, "axis": {"title": null, "values": [2014, 2016, 2018, 2020, 2022], "format": "d"}},
                    "y": {"field": "value", "type": "quantitative", "scale": {"domain": [-0.249, 5.385], "nice": false, "zero": false}, "axis": {"title": null, "values": [0, 1, 2, 3, 4, 5], "format": "d", "minExtent": 27, "maxExtent": 27}}
                  },
                  "layer": [
                    {
                      "data": {"name": "retro"}, "transform": [{"filter": "datum.panel === 'fishing_mortality'"}],
                      "mark": {"type": "line", "strokeWidth": 2},
                      "encoding": {
                        "color": {"field": "age", "type": "nominal", "scale": {"domain": ["0", "1", "2", "NA"], "range": ["#F8766D", "#00BA38", "#619CFF", "#7F7F7F"]}},
                        "strokeDash": {"field": "id", "type": "nominal", "scale": {"domain": ["2022", "2021", "2020", "2019", "2018", "2017"], "range": [[2, 6, 8, 6], [2, 6], [8, 8], [8, 4], [4, 4], [1, 0]]}, "legend": null}
                      }
                    },
                    {
                      "data": {"name": "retro"}, "transform": [{"filter": "datum.panel === 'fishing_mortality'"}],
                      "mark": {"type": "point", "filled": false, "opacity": 1},
                      "encoding": {
                        "color": {"field": "age", "type": "nominal", "scale": {"domain": ["0", "1", "2", "NA"], "range": ["#F8766D", "#00BA38", "#619CFF", "#7F7F7F"]}},
                        "shape": {"condition": [
                          {"test": "datum.id === '2017'", "value": "M0.9,0A0.9,0.9 0 1,1 -0.9,0A0.9,0.9 0 1,1 0.9,0Z"},
                          {"test": "datum.id === '2018'", "value": "M0,-1.15L1,0.58L-1,0.58Z"},
                          {"test": "datum.id === '2019'", "value": "M-1.1,0H1.1M0,-1.1V1.1"},
                          {"test": "datum.id === '2020'", "value": "M-0.8,-0.8L0.8,0.8M-0.8,0.8L0.8,-0.8"},
                          {"test": "datum.id === '2021'", "value": "M0,-1.2L1.2,0L0,1.2L-1.2,0Z"}], "value": "M0,1.15L1,-0.58L-1,-0.58Z"}
                      }
                    },
                    {
                      "data": {"name": "rho"}, "transform": [{"filter": "datum.panel === 'fishing_mortality'"}],
                      "mark": {"type": "point", "shape": "M5,0H129A5,5 0 0 0 134,-5V-32A5,5 0 0 0 129,-37H5A5,5 0 0 0 0,-32V-5A5,5 0 0 0 5,0Z", "size": 4, "filled": true, "fill": "white", "stroke": "#1a1a1a", "strokeWidth": 1.1, "opacity": 1}
                    },
                    {
                      "data": {"name": "rho"}, "transform": [{"filter": "datum.panel === 'fishing_mortality'"}],
                      "mark": {"type": "text", "align": "left", "baseline": "middle", "dx": 9, "dy": -18.5, "fontSize": 27, "color": "#000000"},
                      "encoding": {"text": {"field": "label", "type": "nominal"}}
                    }
                  ]
                }
              ]
            }
          ]
        }
      ]
    }
  ]
}
